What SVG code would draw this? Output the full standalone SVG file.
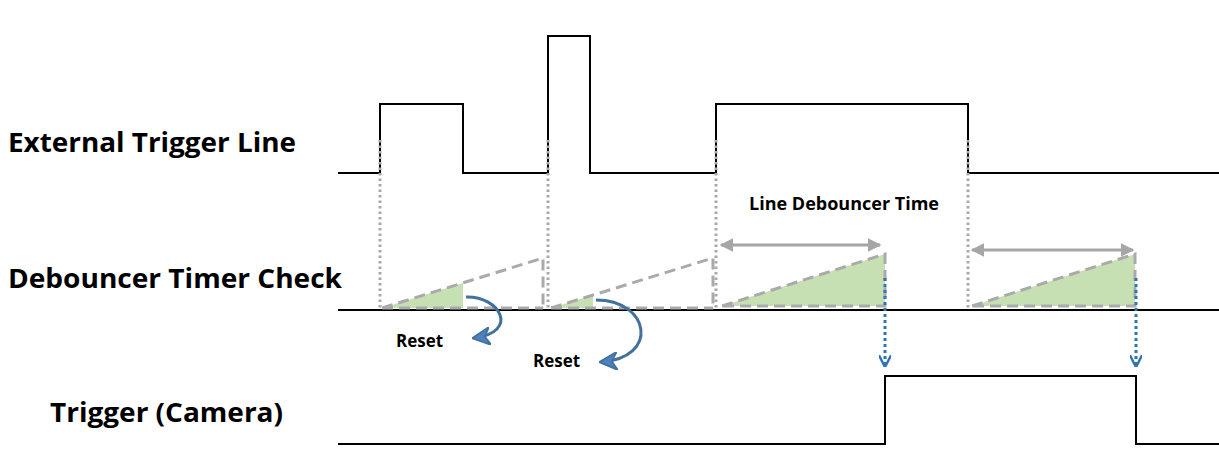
<svg xmlns="http://www.w3.org/2000/svg" width="1219" height="466" viewBox="0 0 1219 466">
<style>
.sig{fill:none;stroke:#000;stroke-width:2}
.dot{stroke:#aaa;stroke-width:3;stroke-dasharray:2.5 3;fill:none}
.dash{stroke:#aaa;stroke-width:3;stroke-dasharray:11 6;fill:none}
.g{fill:#c6e0b4}
.lbl{font-family:"Open Sans","Liberation Sans",sans-serif;font-weight:bold;fill:#000}
.curv{fill:none;stroke:#41719c;stroke-width:3}
.bdot{stroke:#2e75b6;stroke-width:3;stroke-dasharray:3 3;fill:none}
.dbl{stroke:#a6a6a6;stroke-width:3;fill:none}
</style>
<defs>
<marker id="ga" viewBox="0 0 10 10" refX="9" refY="5" markerWidth="4.5" markerHeight="4.5" orient="auto-start-reverse"><path d="M0,0L10,5L0,10Z" fill="#a6a6a6"/></marker>
<marker id="ba" viewBox="0 0 10 10" refX="9" refY="5" markerWidth="6" markerHeight="6" orient="auto"><path d="M0,0L10,5L0,10L3,5Z" fill="#4f81bd" stroke="#41719c"/></marker>
<marker id="va" viewBox="0 0 10 10" refX="9" refY="5" markerWidth="4" markerHeight="4" orient="auto"><path d="M0,0L10,5L0,10" fill="none" stroke="#2e75b6" stroke-width="2"/></marker>
</defs>
<g id="labels">
<text class="lbl" x="8" y="152" font-size="26" textLength="288" lengthAdjust="spacingAndGlyphs">External Trigger Line</text>
<text class="lbl" x="8" y="288" font-size="26" textLength="334" lengthAdjust="spacingAndGlyphs">Debouncer Timer Check</text>
<text class="lbl" x="50" y="422" font-size="26" textLength="233" lengthAdjust="spacingAndGlyphs">Trigger (Camera)</text>
<text class="lbl" x="749" y="210" font-size="17" textLength="190" lengthAdjust="spacingAndGlyphs">Line Debouncer Time</text>
<text class="lbl" x="396" y="347" font-size="17" textLength="47" lengthAdjust="spacingAndGlyphs">Reset</text>
<text class="lbl" x="533" y="367" font-size="17" textLength="47" lengthAdjust="spacingAndGlyphs">Reset</text>
</g>
<g id="signals">
<path class="sig" d="M338,173H380V104H463V173H548V36H590V173H716V104H968V173H1219"/>
<path class="sig" d="M338,310H1219"/>
<path class="sig" d="M338,444H885V376H1136V444H1219"/>
</g>
<g id="timers">
<path class="g" d="M382,308L463,283V308Z"/>
<path class="g" d="M551,308L593,295V308Z"/>
<path class="g" d="M722,306L885,254V306Z"/>
<path class="g" d="M972,306L1135,254V306Z"/>
<path class="dash" d="M382,308L543,258V308M382,308H543"/>
<path class="dash" d="M551,308L713,258V308M551,308H713"/>
<path class="dash" d="M722,306L885,254V306H722"/>
<path class="dash" d="M972,306L1135,254V306H972"/>
</g>
<g id="connectors">
<path class="dot" d="M380,140V310M548,140V310M716,140V310M968,140V310"/>
<path class="dbl" d="M721,245H880" marker-start="url(#ga)" marker-end="url(#ga)"/>
<path class="dbl" d="M972,250H1133" marker-start="url(#ga)" marker-end="url(#ga)"/>
<path class="bdot" d="M885,278V366" marker-end="url(#va)"/>
<path class="bdot" d="M1136,278V366" marker-end="url(#va)"/>
<path class="curv" d="M466,297C500,296 520,332 474,338" marker-end="url(#ba)"/>
<path class="curv" d="M596,300C650,300 660,358 601,362" marker-end="url(#ba)"/>
</g>
</svg>
